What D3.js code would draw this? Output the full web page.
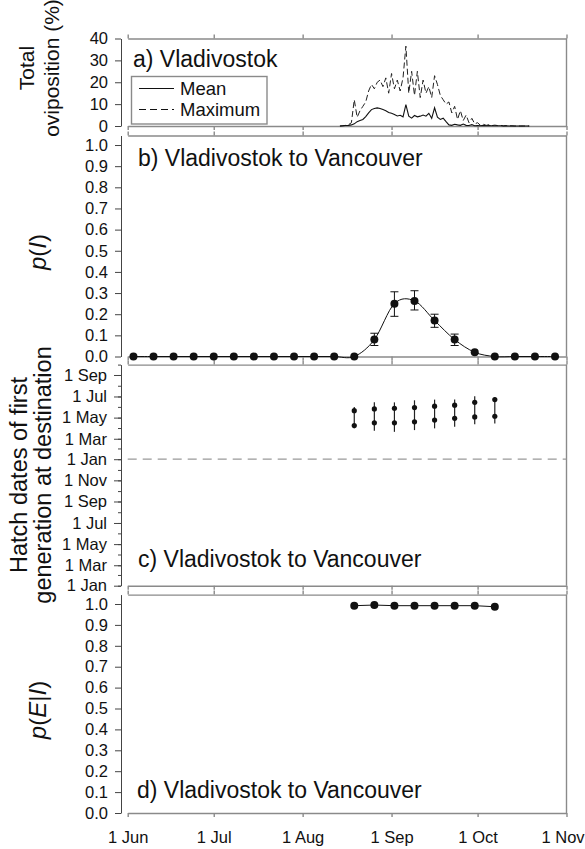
<!DOCTYPE html>
<head>
<meta charset="utf-8">
<script src="https://d3js.org/d3.v7.min.js"></script>
<style>
  body { margin:0; background:#fff; }
  svg { display:block; font-family:"Liberation Sans", Arial, Helvetica, sans-serif; }
  .frame path.domain, .frame line { stroke:#8a8a8a; stroke-width:1.4px; }
  .yax path.domain { stroke:#444; stroke-width:1px; }
  .yax line { stroke:#444; }
  .yax text, .xlab text { font-size:16.5px; fill:#111; }
</style>
</head>
<body>
<div class="chart-container"></div>
<script>
// a) daily oviposition (%) from 14 Aug
var ovStart = "2001-08-14";
var ovMean = [0,0.1,0.2,0.3,0.5,1.0,2.0,2.5,3.0,4.3,6.0,7.5,8.0,8.3,8.0,7.5,7.0,6.2,5.8,5.3,
  4.6,4.9,4.2,9.8,4.5,3.6,4.8,4.2,4.5,5.0,4.5,5.8,3.5,8.3,4.0,3.0,3.6,2.0,0.5,0.3,
  0.8,0.5,0.3,0.9,0.3,0.2,0.6,0.1,0.2,0.1,0.3,0.1,0.2,0.1,0.1,0.1,0.1,0,0.1,0,0,0,0,0,0,0,0];
var ovMax = [0,0.1,0.3,0.6,1.5,12,4,7,9,11,16,19,17,20,21,18,22,15,24,17,
  21,16,22,36.5,15,25,14,25,13,21,15,18,13,23,19,14,12,10,11,6,
  9,3,7,2.5,5,1.5,3.5,1,1.5,0.3,0.8,0.3,0.6,0.2,0.4,0.2,0.3,0.1,0.2,0.1,0.1,0,0,0,0,0,0];

// b) weekly departures, p(I) with error bars
var departDates = ["2001-06-03","2001-06-10","2001-06-17","2001-06-24","2001-07-01","2001-07-08",
  "2001-07-15","2001-07-22","2001-07-29","2001-08-05","2001-08-12","2001-08-19","2001-08-26",
  "2001-09-02","2001-09-09","2001-09-16","2001-09-23","2001-09-30","2001-10-07","2001-10-14",
  "2001-10-21","2001-10-28"];
var pI   = [0,0,0,0,0,0,0,0,0,0,0,0,0.08,0.25,0.263,0.17,0.08,0.02,0,0,0,0];
var pIlo = [null,null,null,null,null,null,null,null,null,null,null,null,0.052,0.19,0.22,0.138,0.052,null,null,null,null,null];
var pIhi = [null,null,null,null,null,null,null,null,null,null,null,null,0.11,0.306,0.311,0.20,0.106,null,null,null,null,null];

// c) hatch dates of first generation at destination
var hatchDeparts = ["2001-08-19","2001-08-26","2001-09-02","2001-09-09","2001-09-16","2001-09-23","2001-09-30","2001-10-07"];
var hatchMax   = ["2002-06-01","2002-06-14","2002-06-14","2002-06-20","2002-06-22","2002-06-22","2002-07-02","2002-06-28"];
var hatchUpper = ["2002-05-21","2002-05-26","2002-05-28","2002-05-30","2002-06-03","2002-06-06","2002-06-14","2002-06-22"];
var hatchLower = ["2002-04-08","2002-04-16","2002-04-16","2002-04-19","2002-04-24","2002-04-29","2002-05-03","2002-05-05"];
var hatchMin   = ["2002-03-31","2002-03-24","2002-03-21","2002-03-26","2002-03-31","2002-04-05","2002-04-12","2002-04-14"];

// d) p(E|I)
var pEI = [0.992,0.995,0.992,0.992,0.992,0.992,0.992,0.987];

var parse = d3.timeParse("%Y-%m-%d");
var fmtDate = d3.timeFormat("%-d %b");

var svg = d3.select(".chart-container").append("svg")
  .attr("width", 585)
  .attr("height", 849);

var xL = 127.7, xR = 566.5, axX = 121;
var x = d3.scaleTime()
  .domain([parse("2001-06-01"), parse("2001-11-01")])
  .range([xL, xR]);

var panels = {
  a: {top:38.5, bottom:126},
  b: {top:135.5, bottom:356.5},
  c: {top:364.6, bottom:585.7},
  d: {top:594.6, bottom:813}
};

var ya = d3.scaleLinear().domain([0,40]).range([126, 38.5]);
var yb = d3.scaleLinear().domain([0,1.045]).range([356.5, 135.5]);
var yc = d3.scaleTime().domain([parse("2001-01-01"), parse("2002-10-01")]).range([585.7, 364.6]);
var yd = d3.scaleLinear().domain([0,1.045]).range([813, 594.6]);

// frames: month ticks top and bottom, right edge
Object.keys(panels).forEach(function(k) {
  var p = panels[k];
  svg.append("g").attr("class","frame")
    .attr("transform","translate(0," + p.top + ")")
    .call(d3.axisTop(x).ticks(d3.timeMonth.every(1)).tickSize(4).tickSizeOuter(0).tickFormat(""));
  svg.append("g").attr("class","frame")
    .attr("transform","translate(0," + p.bottom + ")")
    .call(d3.axisBottom(x).ticks(d3.timeMonth.every(1)).tickSize(4).tickSizeOuter(0).tickFormat(""));
  svg.append("line")
    .attr("x1", xR).attr("x2", xR).attr("y1", p.top).attr("y2", p.bottom)
    .attr("stroke","#8a8a8a").attr("stroke-width",1.4);
});

// y axes
function yAxis(scale, axis) {
  return svg.append("g").attr("class","yax")
    .attr("transform","translate(" + axX + ",0)")
    .call(axis.tickSizeOuter(0).tickPadding(7));
}
var tenths = d3.range(0, 11).map(function(i){ return i/10; });
yAxis(ya, d3.axisLeft(ya).tickValues([0,10,20,30,40]).tickSize(6));
yAxis(yb, d3.axisLeft(yb).tickValues(tenths).tickSize(6).tickFormat(d3.format(".1f")));
yAxis(yd, d3.axisLeft(yd).tickValues(tenths).tickSize(6).tickFormat(d3.format(".1f")));
yAxis(yc, d3.axisLeft(yc).ticks(d3.timeMonth.every(1)).tickSize(3).tickFormat(""));
yAxis(yc, d3.axisLeft(yc).ticks(d3.timeMonth.every(2)).tickSize(7).tickPadding(6).tickFormat(fmtDate)).select(".domain").remove();

// bottom labels (last one nudged in so it stays on the page)
var xlab = svg.append("g").attr("class","xlab")
  .attr("transform","translate(0," + panels.d.bottom + ")")
  .call(d3.axisBottom(x).ticks(d3.timeMonth.every(1)).tickSize(0).tickPadding(18).tickFormat(fmtDate));
xlab.select(".domain").remove();
xlab.selectAll(".tick text").filter(function(d, i, n){ return i === n.length - 1; }).attr("dx", -4);

// panel a lines
var ovDates = ovMean.map(function(v, i){ return d3.timeDay.offset(parse(ovStart), i); });
var lineA = d3.line().x(function(d, i){ return x(ovDates[i]); }).y(function(d){ return ya(d); });
svg.append("path").datum(ovMax).attr("d", lineA)
  .attr("fill","none").attr("stroke","#222").attr("stroke-width",1).attr("stroke-dasharray","6,3");
svg.append("path").datum(ovMean).attr("d", lineA)
  .attr("fill","none").attr("stroke","#111").attr("stroke-width",1.1);

// legend
svg.append("rect").attr("x",131.5).attr("y",76.5).attr("width",135.5).attr("height",47.5)
  .attr("fill","#fff").attr("stroke","#8a8a8a").attr("stroke-width",1.4);
[["Mean", null, 88.5], ["Maximum", "7,4", 109.5]].forEach(function(l) {
  svg.append("line").attr("x1",139).attr("x2",174).attr("y1",l[2]).attr("y2",l[2])
    .attr("stroke","#111").attr("stroke-width",1).attr("stroke-dasharray",l[1]);
  svg.append("text").attr("x",180).attr("y",l[2] + 6.5).attr("font-size",18.5).attr("fill","#111").text(l[0]);
});

// panel b
var depDates = departDates.map(parse);
svg.append("path").datum(pI)
  .attr("d", d3.line().curve(d3.curveCardinal).x(function(d, i){ return x(depDates[i]); }).y(function(d){ return yb(d); }))
  .attr("fill","none").attr("stroke","#111").attr("stroke-width",1);
var eb = svg.append("g");
pI.forEach(function(v, i) {
  if (pIlo[i] === null) return;
  var cx = x(depDates[i]);
  eb.append("line").attr("x1",cx).attr("x2",cx).attr("y1",yb(pIlo[i])).attr("y2",yb(pIhi[i]));
  eb.append("line").attr("x1",cx-4).attr("x2",cx+4).attr("y1",yb(pIlo[i])).attr("y2",yb(pIlo[i]));
  eb.append("line").attr("x1",cx-4).attr("x2",cx+4).attr("y1",yb(pIhi[i])).attr("y2",yb(pIhi[i]));
});
eb.attr("stroke","#111").attr("stroke-width",1);
svg.append("g").selectAll("circle").data(pI).enter().append("circle")
  .attr("cx", function(d, i){ return x(depDates[i]); })
  .attr("cy", function(d){ return yb(d); })
  .attr("r", 4).attr("fill","#111");

// panel c
svg.append("line").attr("x1", xL).attr("x2", xR)
  .attr("y1", yc(parse("2002-01-01"))).attr("y2", yc(parse("2002-01-01")))
  .attr("stroke","#999").attr("stroke-width",1.2).attr("stroke-dasharray","9,6");
var hg = svg.append("g");
hatchDeparts.forEach(function(dd, i) {
  var cx = x(parse(dd));
  hg.append("line").attr("x1",cx).attr("x2",cx)
    .attr("y1", yc(parse(hatchMin[i]))).attr("y2", yc(parse(hatchMax[i])))
    .attr("stroke","#222").attr("stroke-width",1.2);
  [hatchUpper[i], hatchLower[i]].forEach(function(h) {
    hg.append("circle").attr("cx",cx).attr("cy",yc(parse(h))).attr("r",2.6).attr("fill","#111");
  });
});

// panel d
var hd = hatchDeparts.map(parse);
svg.append("path").datum(pEI)
  .attr("d", d3.line().x(function(d, i){ return x(hd[i]); }).y(function(d){ return yd(d); }))
  .attr("fill","none").attr("stroke","#111").attr("stroke-width",1);
svg.append("g").selectAll("circle").data(pEI).enter().append("circle")
  .attr("cx", function(d, i){ return x(hd[i]); })
  .attr("cy", function(d){ return yd(d); })
  .attr("r", 4).attr("fill","#111");

// panel titles
[["a) Vladivostok", 133, 67], ["b) Vladivostok to Vancouver", 138, 166],
 ["c) Vladivostok to Vancouver", 138, 567], ["d) Vladivostok to Vancouver", 137, 798]].forEach(function(t) {
  svg.append("text").attr("x", t[1]).attr("y", t[2]).attr("font-size", 23).attr("fill","#111").text(t[0]);
});

// y titles
function yTitle(cx, cy, size) {
  return svg.append("text").attr("transform","translate(" + cx + "," + cy + ") rotate(-90)")
    .attr("text-anchor","middle").attr("font-size",size).attr("fill","#111");
}
var t1 = yTitle(34, 68, 21);
t1.append("tspan").attr("x",0).attr("y",0).text("Total");
t1.append("tspan").attr("x",0).attr("y",25).text("oviposition (%)");

var t2 = yTitle(46, 252, 24);
t2.append("tspan").attr("font-style","italic").text("p");
t2.append("tspan").text("(");
t2.append("tspan").attr("font-style","italic").text("I");
t2.append("tspan").text(")");

var t3 = yTitle(27, 475, 23.5);
t3.append("tspan").attr("x",0).attr("y",0).text("Hatch dates of first");
t3.append("tspan").attr("x",0).attr("y",24).text("generation at destination");

var t4 = yTitle(46, 710, 24);
t4.append("tspan").attr("font-style","italic").text("p");
t4.append("tspan").text("(");
t4.append("tspan").attr("font-style","italic").text("E");
t4.append("tspan").text("|");
t4.append("tspan").attr("font-style","italic").text("I");
t4.append("tspan").text(")");
</script>
</body>
